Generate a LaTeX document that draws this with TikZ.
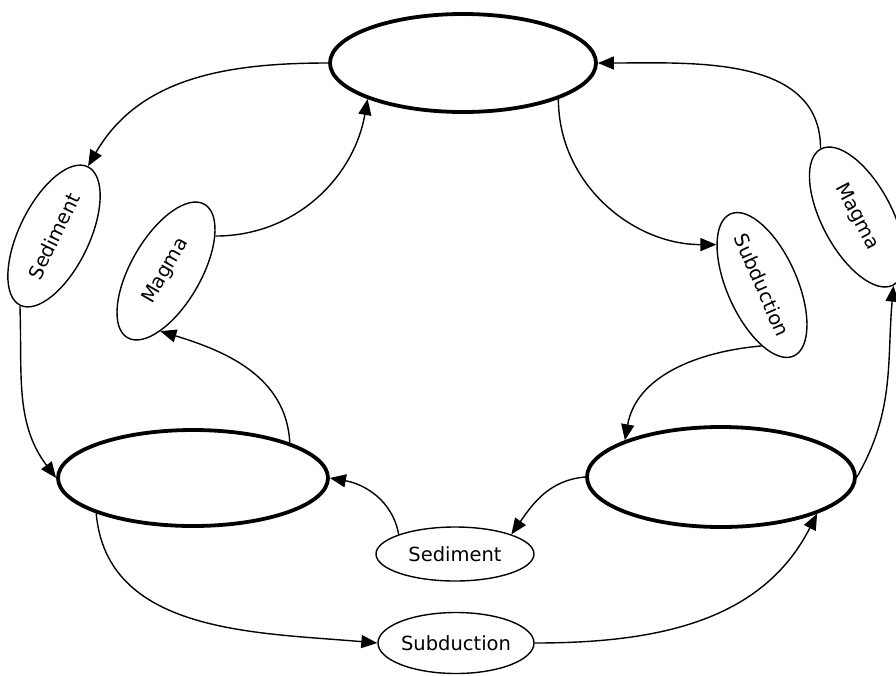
\documentclass[tikz,border=0pt]{standalone}
\usepackage{fontspec}
\setmainfont{DejaVu Sans}
\usetikzlibrary{shapes.geometric,arrows.meta}
\begin{document}
\begin{tikzpicture}[x=1pt,y=1pt,
  big/.style={ellipse,draw,line width=3.8pt,inner sep=0pt},
  small/.style={ellipse,draw,line width=1.4pt,inner sep=0pt,minimum width=154pt,minimum height=70pt,font=\fontsize{19.5}{22}\selectfont},
  conn/.style={line width=1.4pt,-{Triangle[length=16pt,width=13pt]}}]
\useasboundingbox (0,0) rectangle (896,-675);
\node[big,minimum width=266pt,minimum height=98pt] (top) at (463,-63) {};
\node[big,minimum width=270pt,minimum height=96pt] (bl) at (193,-478) {};
\node[big,minimum width=268pt,minimum height=100pt] (br) at (721,-477) {};
\node[small,rotate=64] (sedL) at (54,-236) {Sediment};
\node[small,rotate=60] (magL) at (166,-271) {Magma};
\node[small,rotate=-66] (subR) at (762,-285) {Subduction};
\node[small,rotate=-62] (magR) at (857,-217) {Magma};
\node[small,minimum width=158pt,minimum height=54pt] (sedB) at (455,-554) {Sediment};
\node[small,minimum width=156pt,minimum height=61pt] (subB) at (456,-643) {Subduction};
\draw[conn] (top.west) to[out=180,in=60] (sedL.east);
\draw[conn] (magL.south east) to[out=0,in=260] (top.south west);
\draw[conn] (top.south east) to[out=270,in=180] (subR.south west);
\draw[conn] (magR.west) to[out=90,in=0] (top.east);
\draw[conn] (subR.south east) to[out=185,in=80] (br.north west);
\draw[conn] (br.east) to[out=60,in=265] (magR.east);
\draw[conn] (br.west) to[out=185,in=55] (sedB.north east);
\draw[conn] (sedB.north west) to[out=100,in=350] (bl.east);
\draw[conn] (bl.north east) to[out=93,in=343] (magL.south west);
\draw[conn] (sedL.west) to[out=272,in=127] (bl.west);
\draw[conn] (bl.south west) to[out=275,in=175] (subB.west);
\draw[conn] (subB.east) to[out=0,in=243] (br.south east);
\end{tikzpicture}
\end{document}
